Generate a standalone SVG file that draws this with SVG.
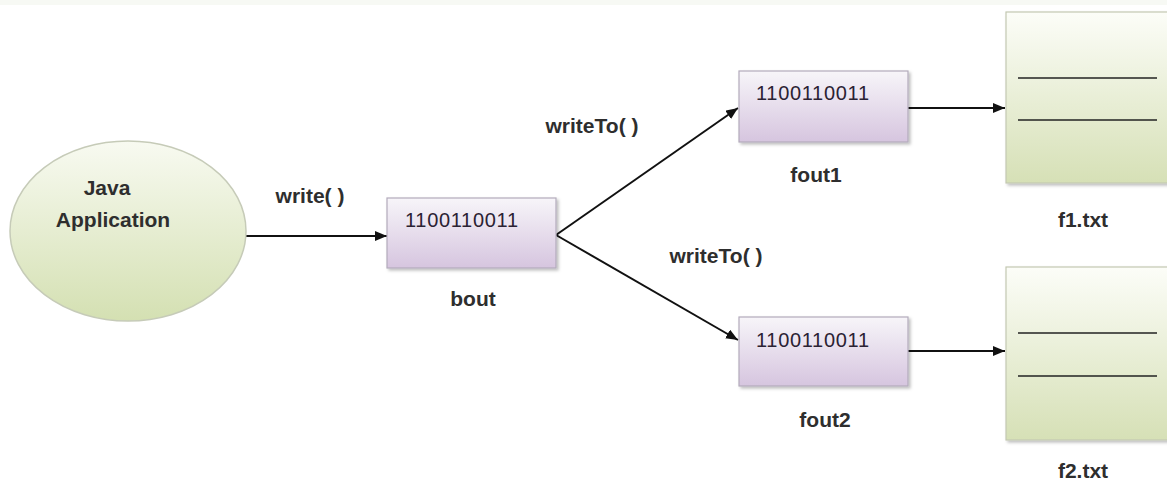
<svg xmlns="http://www.w3.org/2000/svg" width="1167" height="487" viewBox="0 0 1167 487">
  <defs>
    <linearGradient id="gEllipse" x1="0" y1="0" x2="0" y2="1">
      <stop offset="0" stop-color="#f8faf1"/>
      <stop offset="1" stop-color="#d4e0b2"/>
    </linearGradient>
    <linearGradient id="gBuf" x1="0" y1="0" x2="0" y2="1">
      <stop offset="0" stop-color="#f7f5f9"/>
      <stop offset="1" stop-color="#d6c5df"/>
    </linearGradient>
    <linearGradient id="gFile" x1="0" y1="0" x2="0" y2="1">
      <stop offset="0" stop-color="#fcfdf8"/>
      <stop offset="1" stop-color="#d6e0b6"/>
    </linearGradient>
    <filter id="shadow" x="-10%" y="-10%" width="130%" height="130%">
      <feDropShadow dx="2" dy="2" stdDeviation="1.5" flood-color="#000" flood-opacity="0.25"/>
    </filter>
    <marker id="arrow" viewBox="0 0 12 10" refX="12" refY="5" markerWidth="12" markerHeight="10" markerUnits="userSpaceOnUse" orient="auto">
      <path d="M0,0 L12,5 L0,10 z" fill="#111"/>
    </marker>
  </defs>
  <style>
    .lbl { font-family: "Liberation Sans", Arial, sans-serif; font-weight: bold; font-size: 21px; fill: #2e2e2e; }
    .bits { font-family: "Liberation Sans", Arial, sans-serif; font-size: 20px; fill: #2b2233; }
    .buf { fill: url(#gBuf); stroke: #b3abbb; stroke-width: 1.2; filter: url(#shadow); }
    .file { fill: url(#gFile); stroke: #c3c8b2; stroke-width: 1.2; filter: url(#shadow); }
    .rule { stroke: #222; stroke-width: 1.6; }
    .conn { stroke: #111; stroke-width: 2; fill: none; marker-end: url(#arrow); }
  </style>

  <rect x="0" y="0" width="1167" height="487" fill="#ffffff"/>
  <rect x="0" y="0" width="1167" height="5" fill="#f7f9f4"/>

  <!-- connectors -->
  <g id="connectors">
    <line class="conn" x1="246" y1="236" x2="387" y2="236"/>
    <line class="conn" x1="556" y1="235" x2="738" y2="108"/>
    <line class="conn" x1="556" y1="235" x2="738" y2="340"/>
    <line class="conn" x1="908" y1="108" x2="1005" y2="108"/>
    <line class="conn" x1="908" y1="351" x2="1005" y2="351"/>
    <text class="lbl" x="310" y="203" text-anchor="middle">write( )</text>
    <text class="lbl" x="592" y="133" text-anchor="middle">writeTo( )</text>
    <text class="lbl" x="716" y="263" text-anchor="middle">writeTo( )</text>
  </g>

  <!-- application -->
  <g id="java-app">
    <ellipse cx="128" cy="231" rx="118" ry="90" fill="url(#gEllipse)" stroke="#c6cbb8" stroke-width="1.5"/>
    <text class="lbl" x="107" y="195" text-anchor="middle">Java</text>
    <text class="lbl" x="113" y="227" text-anchor="middle">Application</text>
  </g>

  <!-- byte array stream -->
  <g id="bout">
    <rect class="buf" x="387" y="198" width="169" height="70"/>
    <text class="bits" x="405" y="227" textLength="113">1100110011</text>
    <text class="lbl" x="473" y="306" text-anchor="middle">bout</text>
  </g>

  <!-- output streams -->
  <g id="fout1">
    <rect class="buf" x="739" y="71" width="169" height="71"/>
    <text class="bits" x="756" y="100" textLength="113">1100110011</text>
    <text class="lbl" x="816" y="182" text-anchor="middle">fout1</text>
  </g>
  <g id="fout2">
    <rect class="buf" x="739" y="317" width="169" height="69"/>
    <text class="bits" x="756" y="347" textLength="113">1100110011</text>
    <text class="lbl" x="825" y="427" text-anchor="middle">fout2</text>
  </g>

  <!-- files -->
  <g id="f1">
    <rect class="file" x="1006" y="12" width="170" height="171"/>
    <line class="rule" x1="1018" y1="78" x2="1157" y2="78"/>
    <line class="rule" x1="1018" y1="120" x2="1157" y2="120"/>
    <text class="lbl" x="1083" y="227" text-anchor="middle">f1.txt</text>
  </g>
  <g id="f2">
    <rect class="file" x="1006" y="267" width="170" height="173"/>
    <line class="rule" x1="1018" y1="333" x2="1157" y2="333"/>
    <line class="rule" x1="1018" y1="376" x2="1157" y2="376"/>
    <text class="lbl" x="1083" y="478" text-anchor="middle">f2.txt</text>
  </g>
</svg>
